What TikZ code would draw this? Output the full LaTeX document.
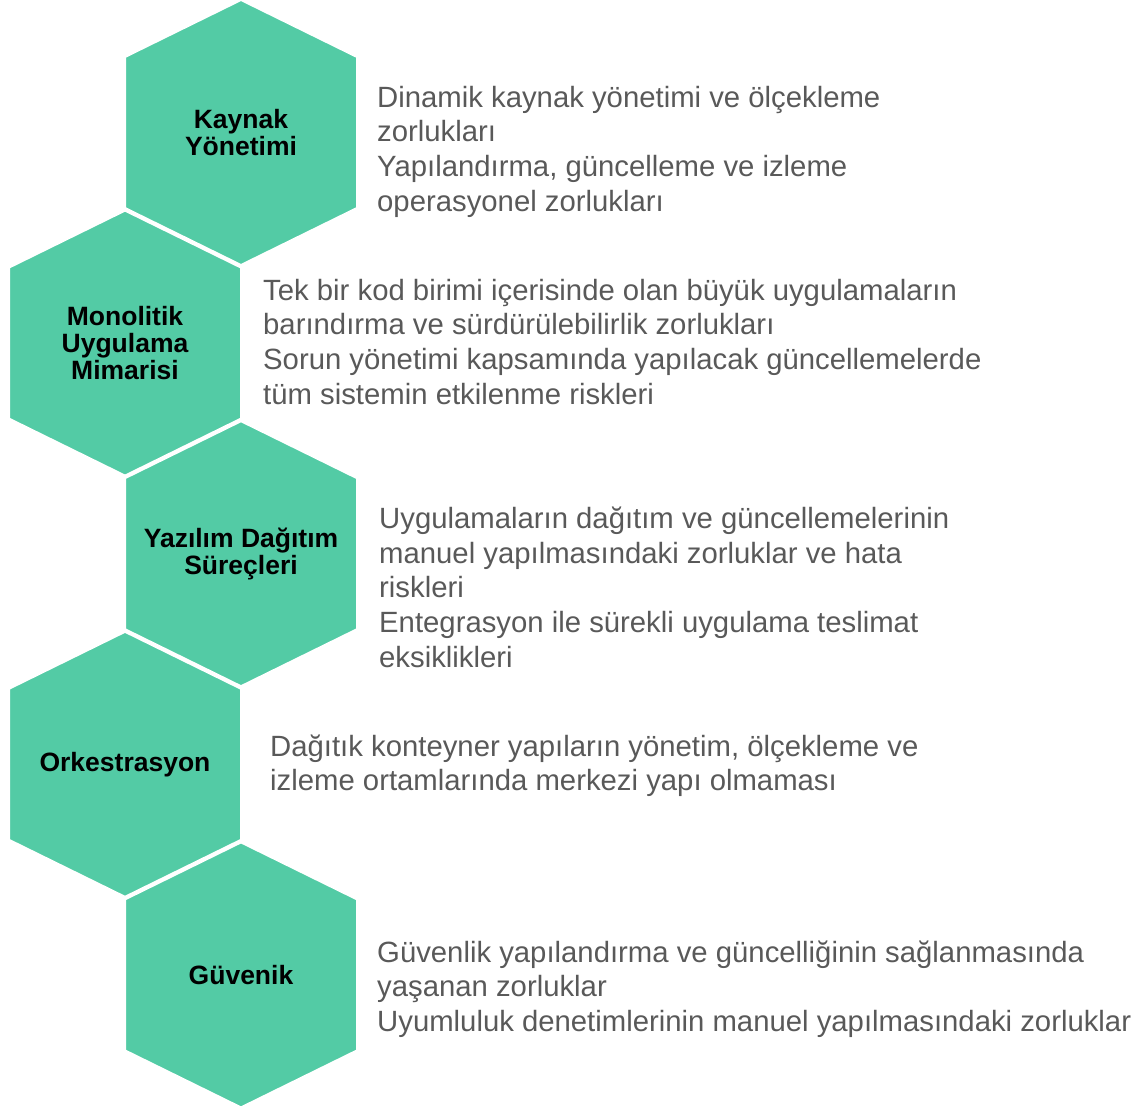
\documentclass[tikz,border=0pt]{standalone}
\usepackage{fontspec}
\setmainfont{Liberation Sans}
\usepackage{xcolor}
\usetikzlibrary{calc,positioning}
\definecolor{hexgreen}{RGB}{83,203,165}
\definecolor{infogray}{RGB}{89,89,89}
\tikzset{%
	hexcell/.style  = {fill=hexgreen, draw=white, line width=2pt, line join=miter},
	hexlabel/.style = {align=center, inner sep=0pt, font=\bfseries\fontsize{26.5}{26.7}\selectfont},
	infotext/.style = {anchor=north west, align=left, inner sep=0pt, text=infogray, font=\fontsize{29.3}{34.6}\selectfont},
}

\begin{document}
\begin{tikzpicture}[x=1pt,y=-1pt]
	\useasboundingbox (0,0) rectangle (1137,1107);  % page frame
	% hexagon column, zig-zag
	\foreach \cx/\cy/\lbl [count=\i] in {241/132.5/{Kaynak\\Yönetimi}, 125/343.1/{Monolitik\\Uygulama\\Mimarisi}, 241/553.7/{Yazılım Dağıtım\\Süreçleri}, 125/764.3/{Orkestrasyon}, 241/974.9/{Güvenik}}{
		\filldraw[hexcell] (\cx,\cy-132.5) -- (\cx+116,\cy-75.5) -- (\cx+116,\cy+75.5) -- (\cx,\cy+132.5) -- (\cx-116,\cy+75.5) -- (\cx-116,\cy-75.5) -- cycle;
		\node[hexlabel] (hex\i) at (\cx,\cy) {\lbl};
	}
	% descriptions
	\node[infotext] (info1) at (377,82.8) {\strut Dinamik kaynak yönetimi ve ölçekleme\\zorlukları\\Yapılandırma, güncelleme ve izleme\\operasyonel zorlukları};
	\node[infotext] (info2) at (263,275.8) {\strut Tek bir kod birimi içerisinde olan büyük uygulamaların\\barındırma ve sürdürülebilirlik zorlukları\\Sorun yönetimi kapsamında yapılacak güncellemelerde\\tüm sistemin etkilenme riskleri};
	\node[infotext] (info3) at (379,504.3) {\strut Uygulamaların dağıtım ve güncellemelerinin\\manuel yapılmasındaki zorluklar ve hata\\riskleri\\Entegrasyon ile sürekli uygulama teslimat\\eksiklikleri};
	\node[infotext] (info4) at (270,731.8) {\strut Dağıtık konteyner yapıların yönetim, ölçekleme ve\\izleme ortamlarında merkezi yapı olmaması};
	\node[infotext] (info5) at (377,937.8) {\strut Güvenlik yapılandırma ve güncelliğinin sağlanmasında\\yaşanan zorluklar\\Uyumluluk denetimlerinin manuel yapılmasındaki zorluklar};
\end{tikzpicture}
\end{document}
